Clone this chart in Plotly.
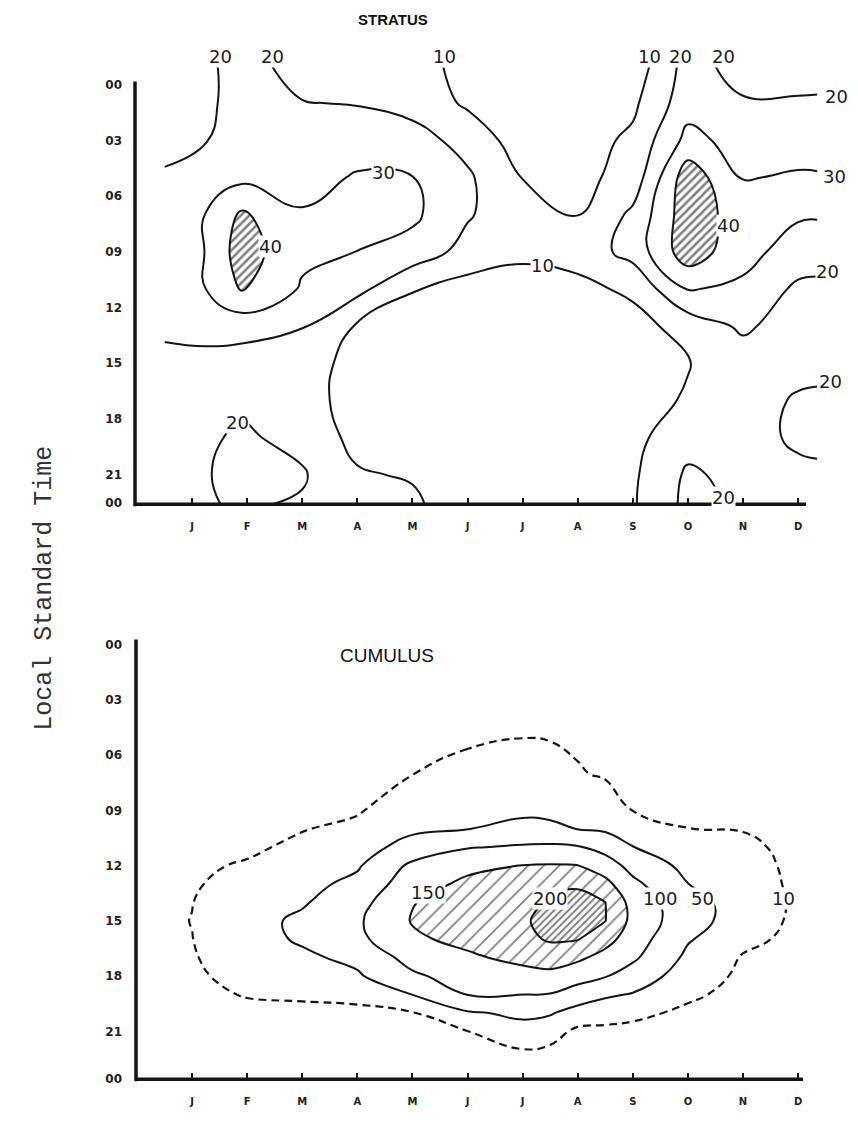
import numpy as np
import plotly.graph_objects as go

# page (window) size and the default 8px body margin of the written page
PAGE_W, PAGE_H = 858, 1135
OFF = 8
FW, FH = PAGE_W - 2 * OFF, PAGE_H - 2 * OFF

# ------------------------------------------------------------------ data
month_ticks = list(range(1, 13))
month_labels = ["J", "F", "M", "A", "M", "J", "J", "A", "S", "O", "N", "D"]
hour_labels = ["00", "03", "06", "09", "12", "15", "18", "21", "00"]
stratus_hour_ticks = [0, 3, 6, 9, 12, 15, 18, 21, 22.5]
cumulus_hour_ticks = [0, 3, 6, 9, 12, 15, 18, 21, 23.55]

# STRATUS frequency field (month position x local hour)
stratus_months = [0.5, 1.25, 1.9, 3, 4, 5, 6, 7, 8, 9, 10, 11, 12, 12.35]
stratus_hours = [-1, 1, 3, 5, 7, 9, 11, 13, 15, 17, 19, 21, 22.6]
stratus_freq = [
    [14, 18.5, 23, 17, 15, 12.5, 8, 5, 5, 4, 24, 16, 16, 15],
    [14, 18, 24, 20.3, 19.6, 16.5, 8.5, 4, 5, 8, 26, 21, 21, 21.5],
    [15, 19.6, 25, 24, 25, 24, 16.5, 5, 5.5, 12, 33, 26, 26, 26],
    [22, 25, 27.5, 26, 31, 30.2, 21.5, 9.8, 7, 14, 46, 29.5, 31, 30.8],
    [24, 30.2, 41.5, 31, 34, 32, 21, 13, 9.5, 22, 46, 35, 31, 30.8],
    [24, 30.2, 45, 32, 29.9, 26, 16.5, 12, 14, 23.5, 46, 33, 26, 25],
    [23, 30, 40.8, 29, 23, 10.5, 6, 6, 7.3, 12, 30.5, 28.3, 18, 17.5],
    [21.5, 23, 24, 20.6, 9, 7, 4, 4, 5, 6.3, 14, 21.7, 15, 15],
    [18, 17.5, 15.5, 14, 7, 6, 3, 3, 5, 5.5, 9.5, 15, 17, 17.5],
    [17, 17.5, 18, 13, 7, 5, 3, 3, 5, 6, 11, 16, 21, 21.5],
    [17, 18.5, 21.5, 17, 7, 6, 3, 3, 5, 7.5, 16, 16.5, 21.5, 22],
    [17, 19.8, 21, 21, 11, 9, 3, 4, 5, 8.5, 21.5, 17, 18, 18.5],
    [17, 19.3, 21, 19, 13, 12, 3, 4, 6, 9, 22.5, 18.5, 17, 17],
]
stratus_line_levels = (10, 30, 10)
stratus_hatch_level = 40

# CUMULUS frequency field
cumulus_months = [0, 1, 2, 3, 4, 5, 6, 7, 7.5, 8, 8.5, 9, 10, 11, 12]
cumulus_hours = [0, 3, 5, 7, 9, 10, 11, 12, 13, 14, 15, 16, 17, 18, 19, 20, 21, 22, 23.6]
cumulus_freq = [
    [0, 0, 0, 0, 0, 0, 0, 0, 0, 0, 0, 0, 0, 0, 0],
    [0, 0, 0, 0, 1, 1, 2, 3, 3, 2, 1, 1, 1, 0, 0],
    [0, 0, 0, 1, 1, 5, 6, 9.3, 8, 6, 4, 2, 1, 1, 0],
    [0, 0, 1, 1, 3, 9.5, 18, 26, 23.7, 12, 7, 4, 2, 1, 0],
    [0, 1, 1, 5, 7, 30, 38, 43, 42, 37, 25, 9.5, 6, 3, 0],
    [0, 1, 2, 8.5, 17.5, 41.5, 49, 60, 57, 49, 43, 30, 10.2, 8.5, 0],
    [0, 3, 4.5, 17, 31, 67, 97, 106, 109, 104, 82, 51, 23, 17, 1],
    [0, 5, 13, 27, 44.5, 110, 138, 151, 153, 151, 125, 83, 37, 23, 2],
    [1, 7, 21, 36, 62, 129, 160, 166, 193, 196, 164, 112, 50.5, 27, 3],
    [1, 9.5, 27, 45, 82, 148, 172, 183, 206, 210, 200.5, 132, 66, 31, 4],
    [1, 10.5, 33.5, 59, 93, 153, 174, 195, 212, 213, 201, 136, 68, 29, 3],
    [1, 9.5, 31.5, 56, 88, 142, 163, 188, 205, 202, 168, 124, 54, 18, 2],
    [1, 8, 24, 41, 62, 118, 142, 163, 173, 159, 133, 108, 40, 7.5, 1],
    [0, 6, 18, 28, 44, 92, 121, 132, 136, 119, 103, 78, 27, 4, 0],
    [0, 4, 11.4, 13, 16, 50.5, 101, 100.5, 98, 77, 57, 47, 14.5, 2, 0],
    [0, 3, 4, 5, 5, 8, 45, 58, 54, 32, 23, 16, 5, 1, 0],
    [0, 2, 2, 2, 2, 3, 9.5, 36, 24, 3, 3, 3, 2, 1, 0],
    [0, 1, 1, 1, 1, 1, 3, 9, 5, 2, 1, 1, 1, 0, 0],
    [0, 0, 0, 0, 0, 0, 1, 2, 1, 1, 0, 0, 0, 0, 0],
]
cumulus_dashed_level = 10
cumulus_solid_levels = (50, 100, 50)
cumulus_hatch_levels = [150, 200]

# contour labels (text, month position, hour)
stratus_label_text = ["20", "20", "10", "10", "20", "20", "30", "40", "10", "40",
                      "30", "20", "20", "20", "20", "20"]
stratus_label_m = [1.51, 2.47, 5.59, 9.31, 9.86, 10.64, 4.47, 2.42, 7.37, 10.73,
                   12.66, 12.7, 12.54, 12.58, 1.83, 10.64]
stratus_label_h = [-1.5, -1.5, -1.5, -1.5, -1.5, -1.5, 4.71, 8.73, 9.75, 7.6,
                   4.93, 0.64, 10.07, 15.96, 18.21, 22.23]
cumulus_label_text = ["150", "200", "100", "50", "10"]
cumulus_label_m = [5.28, 7.5, 9.49, 10.27, 11.73]
cumulus_label_h = [13.46, 13.78, 13.78, 13.78, 13.78]

# ------------------------------------------------------------------ geometry (page pixels)
XMIN, XMAX = -0.0345, 12.579
PX_L, PX_R = 135, 830
TOP_H = (-1.875, 22.6)
TOP_PY = (50, 507)
BOT_H = (-0.434, 23.6)
BOT_PY = (640, 1085)


def px_x(m):
    return PX_L + (m - XMIN) / (XMAX - XMIN) * (PX_R - PX_L)


def py_h(h, rng, pyr):
    return pyr[0] + (h - rng[0]) / (rng[1] - rng[0]) * (pyr[1] - pyr[0])


def xp(px):
    return (px - OFF) / FW


def yp(py):
    return 1 - (py - OFF) / FH


# ------------------------------------------------------------------ iso-polygons
def _cross(p, q, level):
    if (p[0], p[1]) > (q[0], q[1]):
        p, q = q, p
    t = (level - p[2]) / (q[2] - p[2])
    return (round(p[0] + t * (q[0] - p[0]), 6), round(p[1] + t * (q[1] - p[1]), 6))


def iso_loops(xs, ys, z, level):
    z = np.asarray(z, dtype=float)
    segs = []
    for i in range(len(ys) - 1):
        for j in range(len(xs) - 1):
            c = [(xs[j], ys[i], z[i, j]), (xs[j + 1], ys[i], z[i, j + 1]),
                 (xs[j + 1], ys[i + 1], z[i + 1, j + 1]), (xs[j], ys[i + 1], z[i + 1, j])]
            ins = [cc[2] > level for cc in c]
            pts = {}
            for k in range(4):
                if ins[k] != ins[(k + 1) % 4]:
                    pts[k] = _cross(c[k], c[(k + 1) % 4], level)
            if len(pts) == 2:
                a, b = list(pts.values())
                segs.append((a, b))
            elif len(pts) == 4:
                centre = np.mean([cc[2] for cc in c]) > level
                if centre == ins[0]:
                    segs += [(pts[0], pts[1]), (pts[2], pts[3])]
                else:
                    segs += [(pts[3], pts[0]), (pts[1], pts[2])]
    adj = {}
    for idx, (a, b) in enumerate(segs):
        adj.setdefault(a, []).append(idx)
        adj.setdefault(b, []).append(idx)
    used = set()
    loops = []
    for s in range(len(segs)):
        if s in used:
            continue
        used.add(s)
        a, b = segs[s]
        path = [a, b]
        cur = b
        while True:
            nxt = None
            for k in adj[cur]:
                if k not in used:
                    nxt = k
                    break
            if nxt is None:
                break
            used.add(nxt)
            p, q = segs[nxt]
            cur = q if p == cur else p
            path.append(cur)
        loops.append(path)
    return loops


INK = "#141414"
SMOOTH = 1.3
fig = go.Figure()

# ------------------------------------------------------------------ STRATUS
fig.add_trace(go.Contour(
    x=stratus_months, y=stratus_hours, z=stratus_freq, xaxis="x", yaxis="y",
    contours=dict(start=stratus_line_levels[0], end=stratus_line_levels[1],
                  size=stratus_line_levels[2], coloring="none", showlabels=False),
    line=dict(color=INK, width=2, smoothing=SMOOTH),
    showscale=False, hoverinfo="skip"))

for loop in iso_loops(stratus_months, stratus_hours, stratus_freq, stratus_hatch_level):
    fig.add_trace(go.Scatter(
        x=[p[0] for p in loop], y=[p[1] for p in loop], xaxis="x", yaxis="y",
        mode="lines", line=dict(color=INK, width=2, shape="spline", smoothing=1.0),
        fill="toself", fillcolor="white",
        fillpattern=dict(shape="/", fgcolor="#000000", bgcolor="white", size=6, solidity=0.42),
        hoverinfo="skip", showlegend=False))

# ------------------------------------------------------------------ CUMULUS
fig.add_trace(go.Contour(
    x=cumulus_months, y=cumulus_hours, z=cumulus_freq, xaxis="x2", yaxis="y2",
    contours=dict(start=cumulus_dashed_level, end=cumulus_dashed_level, size=1,
                  coloring="none", showlabels=False),
    line=dict(color=INK, width=2.2, dash="8px,5px", smoothing=SMOOTH),
    showscale=False, hoverinfo="skip"))
fig.add_trace(go.Contour(
    x=cumulus_months, y=cumulus_hours, z=cumulus_freq, xaxis="x2", yaxis="y2",
    contours=dict(start=cumulus_solid_levels[0], end=cumulus_solid_levels[1],
                  size=cumulus_solid_levels[2], coloring="none", showlabels=False),
    line=dict(color=INK, width=2, smoothing=SMOOTH),
    showscale=False, hoverinfo="skip"))

hatch_style = {150: dict(size=11, solidity=0.16), 200: dict(size=5, solidity=0.4)}
for lev in cumulus_hatch_levels:
    for loop in iso_loops(cumulus_months, cumulus_hours, cumulus_freq, lev):
        fig.add_trace(go.Scatter(
            x=[p[0] for p in loop], y=[p[1] for p in loop], xaxis="x2", yaxis="y2",
            mode="lines", line=dict(color=INK, width=2, shape="spline", smoothing=1.0),
            fill="toself", fillcolor="white",
            fillpattern=dict(shape="/", fgcolor="#000000", bgcolor="white", **hatch_style[lev]),
            hoverinfo="skip", showlegend=False))

# ------------------------------------------------------------------ annotations
ann = []
lab_font = dict(family="DejaVu Sans", size=18, color="#1c1c1c")
for t, m, h in zip(stratus_label_text, stratus_label_m, stratus_label_h):
    ann.append(dict(x=xp(px_x(m)), y=yp(py_h(h, TOP_H, TOP_PY)), xref="paper", yref="paper",
                    text=t, showarrow=False, font=lab_font, bgcolor="white", borderpad=0,
                    xanchor="center", yanchor="middle"))
for t, m, h in zip(cumulus_label_text, cumulus_label_m, cumulus_label_h):
    ann.append(dict(x=xp(px_x(m)), y=yp(py_h(h, BOT_H, BOT_PY)), xref="paper", yref="paper",
                    text=t, showarrow=False, font=lab_font, bgcolor="white", borderpad=0,
                    xanchor="center", yanchor="middle"))

ann.append(dict(x=xp(393), y=yp(20), xref="paper", yref="paper", text="STRATUS",
                showarrow=False,
                font=dict(family="Liberation Sans", size=15, color="#111", weight="bold"),
                xanchor="center", yanchor="middle"))
ann.append(dict(x=xp(387), y=yp(659), xref="paper", yref="paper", text="CUMULUS",
                showarrow=False,
                font=dict(family="Liberation Sans", size=19, color="#111"),
                xanchor="center", yanchor="middle"))
ann.append(dict(x=xp(45), y=yp(592), xref="paper", yref="paper", text="Local Standard Time",
                textangle=-90, showarrow=False,
                font=dict(family="Liberation Mono", size=25, color="#333"),
                xanchor="center", yanchor="middle"))

# axis lines
axw = 3.5
shapes = [
    dict(type="line", xref="paper", yref="paper", x0=xp(135), x1=xp(135), y0=yp(82), y1=yp(509),
         line=dict(color=INK, width=axw)),
    dict(type="line", xref="paper", yref="paper", x0=xp(134), x1=xp(806), y0=yp(507), y1=yp(507),
         line=dict(color=INK, width=axw)),
    dict(type="line", xref="paper", yref="paper", x0=xp(136), x1=xp(136), y0=yp(643), y1=yp(1087),
         line=dict(color=INK, width=axw)),
    dict(type="line", xref="paper", yref="paper", x0=xp(135), x1=xp(803), y0=yp(1085), y1=yp(1085),
         line=dict(color=INK, width=axw)),
]

xa = dict(range=[XMIN, XMAX], domain=[xp(PX_L), xp(PX_R)], tickmode="array",
          tickvals=month_ticks, ticktext=month_labels, ticks="inside", ticklen=6,
          tickwidth=1.5, tickcolor=INK, showgrid=False, zeroline=False, showline=False,
          tickfont=dict(family="DejaVu Sans", size=10, color="#222", weight="bold"),
          ticklabelstandoff=15)
ya_common = dict(tickmode="array", ticktext=hour_labels, ticks="", showgrid=False,
                 zeroline=False, showline=False,
                 tickfont=dict(family="DejaVu Sans", size=12, color="#222", weight="bold"),
                 ticklabelstandoff=12)

fig.update_layout(
    width=FW, height=FH, margin=dict(l=0, r=0, t=0, b=0),
    paper_bgcolor="white", plot_bgcolor="white", showlegend=False,
    xaxis=dict(**xa, anchor="y"),
    xaxis2=dict(**xa, anchor="y2"),
    yaxis=dict(**ya_common, tickvals=stratus_hour_ticks, range=[TOP_H[1], TOP_H[0]],
               domain=[yp(TOP_PY[1]), yp(TOP_PY[0])], anchor="x"),
    yaxis2=dict(**ya_common, tickvals=cumulus_hour_ticks, range=[BOT_H[1], BOT_H[0]],
                domain=[yp(BOT_PY[1]), yp(BOT_PY[0])], anchor="x2"),
    annotations=ann, shapes=shapes,
)

fig.write_html("out.html")
